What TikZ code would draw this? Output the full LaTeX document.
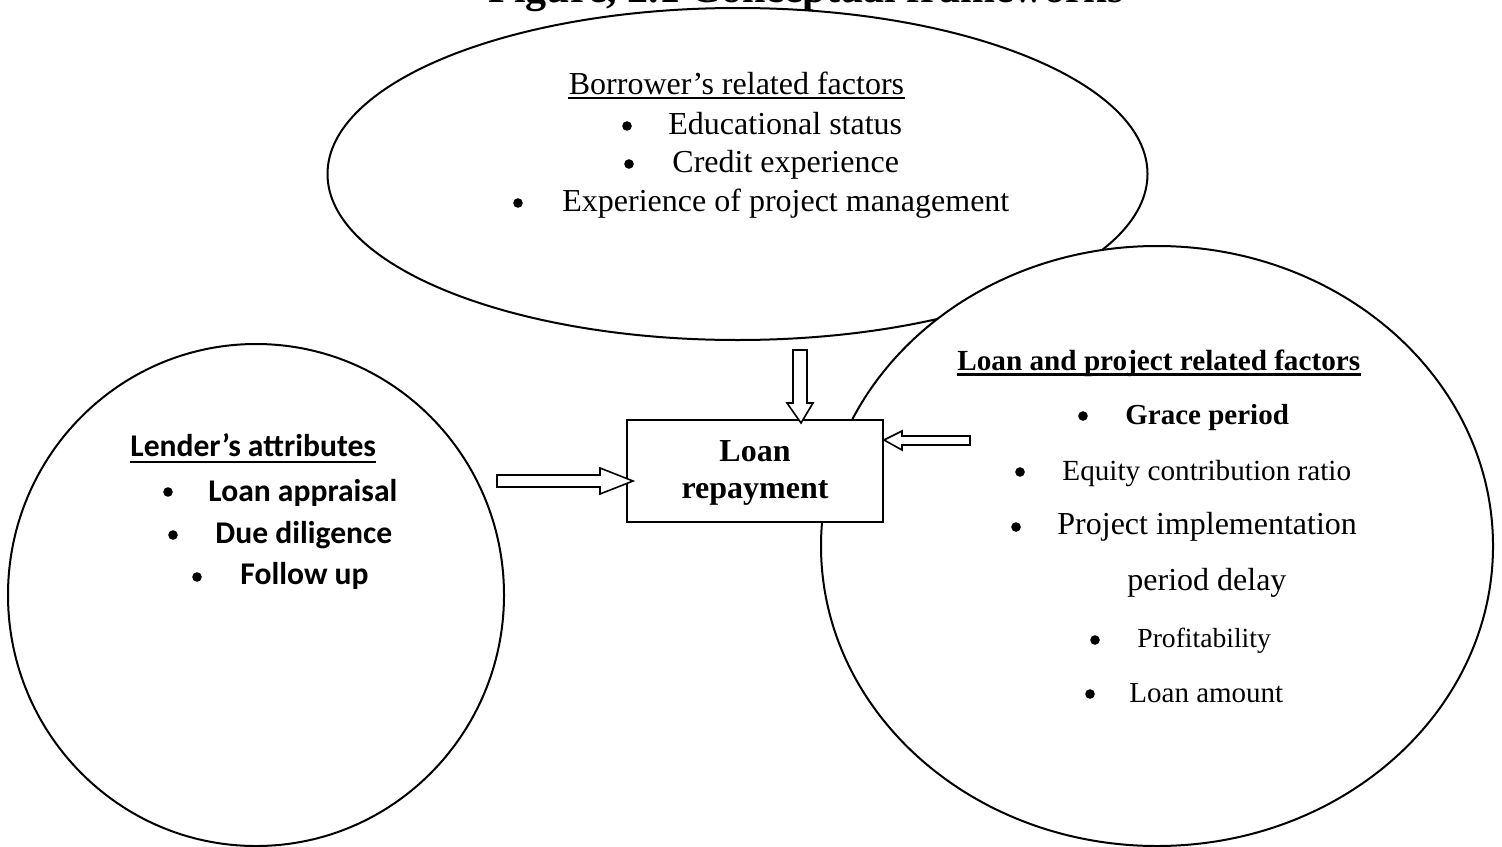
\documentclass[tikz,border=0pt]{standalone}
\usepackage{fontspec}
\setmainfont{Liberation Serif}
\newfontfamily\calibrifont{Carlito}
\usetikzlibrary{shapes.geometric}
\tikzset{
  bubble/.style={ellipse, draw, line width=1pt, fill=white, inner sep=0pt},
  txt/.style={inner sep=0pt, anchor=base west},
  ctxt/.style={inner sep=0pt, anchor=base},
  bul/.style={circle, fill=black, inner sep=0pt, minimum size=4.8pt},
  ulline/.style={line width=0.9pt},
  blockarrow/.style={draw, fill=white, line width=0.8pt, line join=miter},
  fTitle/.style={font=\bfseries\fontsize{21}{25}\selectfont},
  fBor/.style={font=\fontsize{16}{19}\selectfont},
  fLen/.style={font=\calibrifont\bfseries\fontsize{15.8}{19}\selectfont},
  fRhead/.style={font=\bfseries\fontsize{14.6}{18}\selectfont},
  fRbold/.style={font=\bfseries\fontsize{14.5}{18}\selectfont},
  fR/.style={font=\fontsize{#1}{18}\selectfont},
}
\begin{document}
\begin{tikzpicture}[x=0.5pt,y=-0.5pt]
\useasboundingbox (0,0) rectangle (1502,846);
% bubbles
\node[bubble, minimum width=410pt, minimum height=166pt] (borrower) at (737.5,174) {};
\node[bubble, minimum width=248pt, minimum height=251pt] (lender) at (256,595) {};
\node[bubble, minimum width=336pt, minimum height=300pt] (loanproj) at (1157,546) {};
% central box
\node[draw, fill=white, line width=1pt, minimum width=128pt, minimum height=51pt,
      inner sep=0pt, font=\bfseries\fontsize{16}{18.5}\selectfont]
      (box) at (755,471) {\raisebox{-5.3pt}[0pt][0pt]{\begin{tabular}{@{}c@{}}Loan\\repayment\end{tabular}}};
% block arrows
\coordinate (tipT) at (801,423);
\coordinate (tipL) at (633,481);
\coordinate (tipR) at (884,440);
\draw[blockarrow] (tipT) -- ++(12,-20) -- ++(-6,0) -- ++(0,-53) -- ++(-14,0) -- ++(0,53) -- ++(-6,0) -- cycle;
\draw[blockarrow] (tipL) -- ++(-33,-13) -- ++(0,7) -- ++(-103,0) -- ++(0,12) -- ++(103,0) -- ++(0,7) -- cycle;
\draw[blockarrow] (tipR) -- ++(18,-9) -- ++(0,5) -- ++(68,0) -- ++(0,9) -- ++(-68,0) -- ++(0,5) -- cycle;
% title (cut off at top, as in the source)
\node[ctxt, fTitle] (title) at (806,3) {Figure, 2.1 Conceptual frameworks};
% borrower texts
\node[ctxt, fBor] (bhead) at (736.5,94) {Borrower’s related factors};
\draw[ulline] ([yshift=-2pt]bhead.base west) -- ([yshift=-2pt]bhead.base east);
\node[bul] (bb1) at (627,126) {};
\node[txt, fBor] (b1) at (668,134) {Educational status};
\node[bul] (bb2) at (629,164) {};
\node[txt, fBor] (b2) at (672,172) {Credit experience};
\node[bul] (bb3) at (518,203) {};
\node[txt, fBor] (b3) at (562,211) {Experience of project management};
% lender texts
\node[txt, fLen] (lhead) at (130,456) {Lender’s attributes};
\draw[line width=1pt] ([yshift=-3.2pt]lhead.base west) -- ([yshift=-3.2pt]lhead.base east);
\node[bul] (lb1) at (168,492) {};
\node[txt, fLen] (l1) at (208,501) {Loan appraisal};
\node[bul] (lb2) at (173,535) {};
\node[txt, fLen] (l2) at (215,543) {Due diligence};
\node[bul] (lb3) at (197,577) {};
\node[txt, fLen] (l3) at (240,584) {Follow up};
% loan and project texts
\node[txt, fRhead] (rhead) at (957,370) {Loan and project related factors};
\draw[line width=1.2pt] ([yshift=-2.2pt]rhead.base west) -- ([yshift=-2.2pt]rhead.base east);
\node[bul] (rb1) at (1083,416) {};
\node[txt, fRbold] (r1) at (1125,424) {Grace period};
\node[bul] (rb2) at (1020,472) {};
\node[txt, fR=14.6] (r2) at (1062,480) {Equity contribution ratio};
\node[bul] (rb3) at (1016,527) {};
\node[txt, fR=16] (r3) at (1057,534) {Project implementation};
\node[txt, fR=16] (r3b) at (1127,590) {period delay};
\node[bul] (rb4) at (1095,640) {};
\node[txt, fR=13.8] (r4) at (1137,647) {Profitability};
\node[bul] (rb5) at (1090,694) {};
\node[txt, fR=14.5] (r5) at (1129,702) {Loan amount};
\end{tikzpicture}
\end{document}
